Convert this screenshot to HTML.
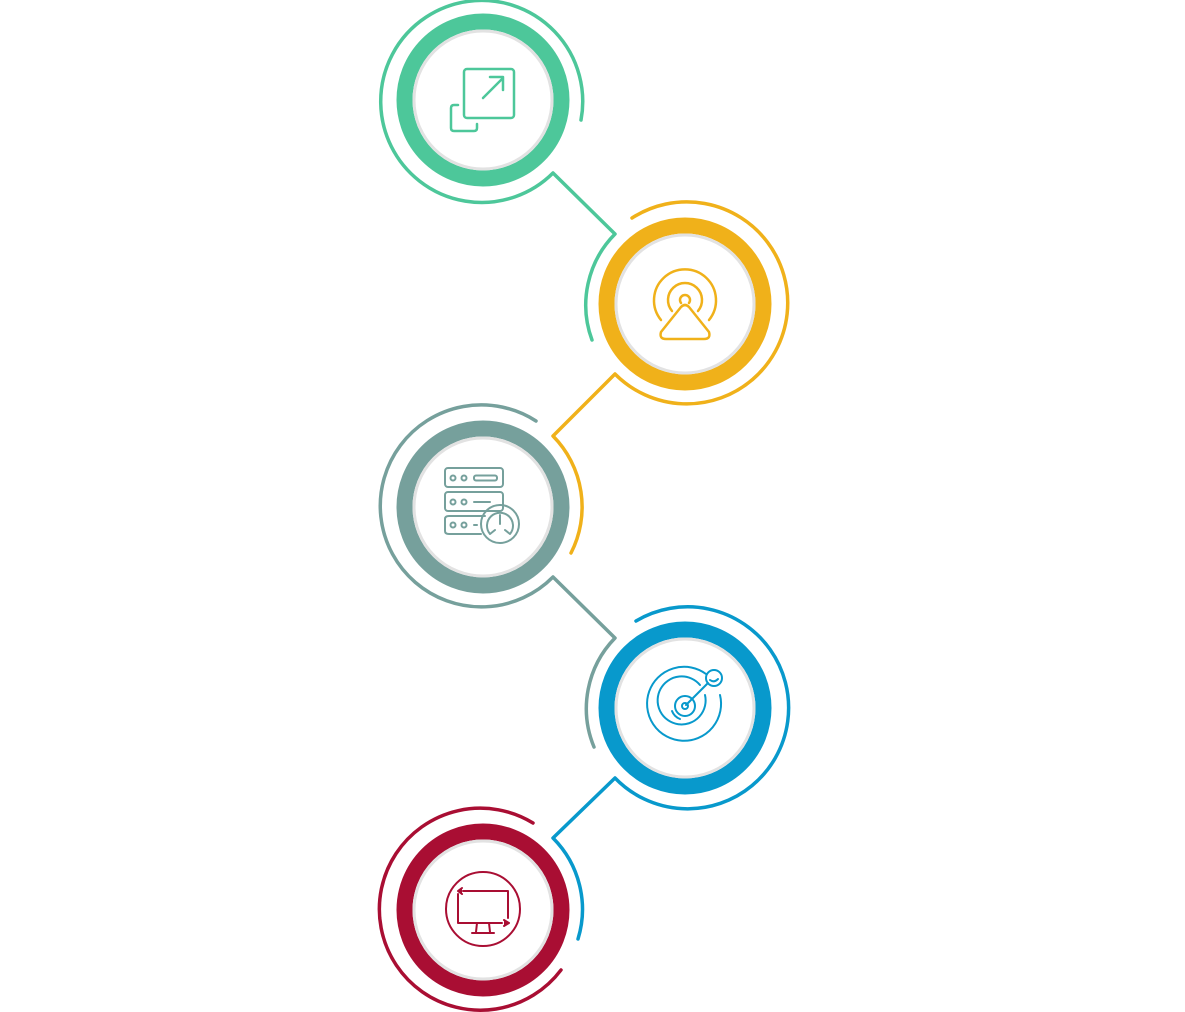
<!DOCTYPE html>
<html><head><meta charset="utf-8"><style>html,body{margin:0;padding:0;background:#fff;}svg{display:block}</style></head>
<body>
<svg width="1185" height="1012" viewBox="0 0 1185 1012" xmlns="http://www.w3.org/2000/svg" fill="none" stroke-linecap="round" stroke-linejoin="round">
<path d="M581,120 A101,101 0 1 0 553,173 L615,234 A101,101 0 0 0 592,340" stroke="#4DC79A" stroke-width="3.5"/>
<path d="M632,218 A101,101 0 1 1 615,374 L553,436 A101,101 0 0 1 571,553" stroke="#F0B11A" stroke-width="3.5"/>
<path d="M536,421 A101,101 0 1 0 553,577 L615,638 A101,101 0 0 0 594,747" stroke="#76A09C" stroke-width="3.5"/>
<path d="M636,621 A101,101 0 1 1 615,778 L553,838 A101,101 0 0 1 578,939" stroke="#0899CC" stroke-width="3.5"/>
<path d="M533,823 A101,101 0 1 0 561,970" stroke="#A90E33" stroke-width="3.5"/>
<g stroke-width="16">
<circle cx="483" cy="100" r="78.5" stroke="#4DC79A"/>
<circle cx="685" cy="304" r="78.5" stroke="#F0B11A"/>
<circle cx="483" cy="507" r="78.5" stroke="#76A09C"/>
<circle cx="685" cy="708" r="78.5" stroke="#0899CC"/>
<circle cx="483" cy="910" r="78.5" stroke="#A90E33"/>
</g>
<g stroke="#e2e2e2" stroke-width="3" fill="#fff">
<circle cx="483" cy="100" r="69"/>
<circle cx="685" cy="304" r="69"/>
<circle cx="483" cy="507" r="69"/>
<circle cx="685" cy="708" r="69"/>
<circle cx="483" cy="910" r="69"/>
</g>
<g stroke="#4DC79A" stroke-width="2.5">
<rect x="464" y="69" width="50" height="49" rx="3"/>
<path d="M483,98 L503,78 M490,77 L503,77 L503,90"/>
<path d="M458,105 L454,105 Q451,105 451,108 L451,128 Q451,131 454,131 L474,131 Q477,131 477,128 L477,124"/>
</g>
<g stroke="#F0B11A" stroke-width="2.5">
<path d="M661,332 L681,307 Q685,303 689,307 L709,332 Q711,339 704,339 L666,339 Q659,339 661,332 Z"/>
<path d="M681,303 A5,5 0 1 1 689,303"/>
<path d="M672,311 A17,17 0 1 1 698,311"/>
<path d="M661,320 A31,31 0 1 1 709,320"/>
</g>
<g stroke="#76A09C" stroke-width="2">
<rect x="445" y="468" width="58" height="19" rx="3"/>
<rect x="445" y="492" width="58" height="19" rx="3"/>
<path d="M481,534 L449,534 Q445,534 445,531 L445,519 Q445,516 449,516 L485,516"/>
<circle cx="453" cy="478" r="2.5"/><circle cx="464" cy="478" r="2.5"/>
<rect x="474" y="475.5" width="23" height="5" rx="2"/>
<circle cx="453" cy="502" r="2.5"/><circle cx="464" cy="502" r="2.5"/>
<path d="M474,502 L490,502"/>
<circle cx="453" cy="525" r="2.5"/><circle cx="464" cy="525" r="2.5"/><path d="M474,525 L477,525"/>
<circle cx="500" cy="524" r="19"/>
<path d="M490,534 A13,13 0 1 1 510,534 L505,530 M495,530 L490,534 M500,515 L500,524"/>
</g>
<g stroke="#0899CC" stroke-width="2">
<path d="M706,674 A37,37 0 1 0 720,695"/>
<path d="M700,685 A24,24 0 1 0 705,695"/>
<circle cx="685" cy="706" r="10"/>
<circle cx="685" cy="706" r="3"/>
<path d="M686,705 L708,683"/>
<circle cx="714" cy="678" r="8"/>
<path d="M710,680 Q714,683 718,679"/>
<path d="M672,711 A14,14 0 0 0 680,719"/>
</g>
<g stroke="#A90E33" stroke-width="2">
<circle cx="483" cy="909" r="37"/>
<path d="M463,891 L508,891 L508,918 M458,894 L458,923 L502,923 M477,923 L476,932 M489,923 L490,932 M472,933 L494,933"/>
<path d="M462,888 L458,891 L462,894" fill="#A90E33"/>
<path d="M504,920 L509,923 L504,926" fill="#A90E33"/>
</g>
</svg>
</body></html>
